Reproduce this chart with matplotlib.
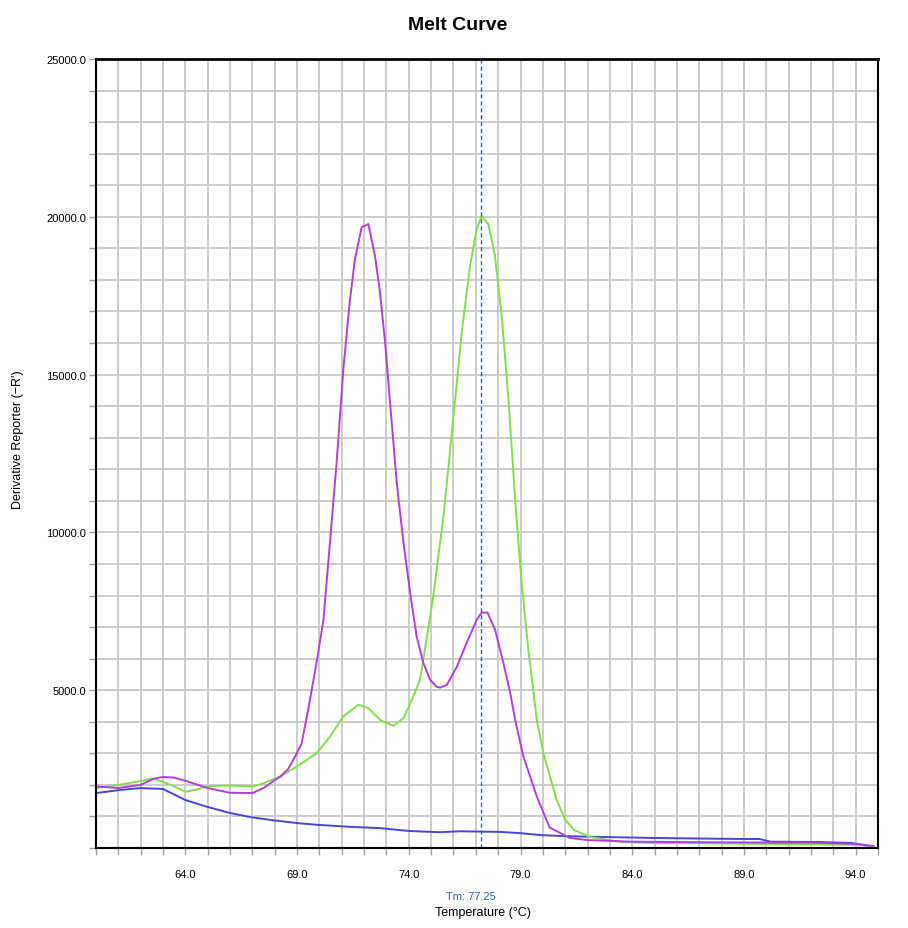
import matplotlib.pyplot as plt
import numpy as np

# melt curve readings (temperature in degC, derivative reporter)
temp_purple = [60.0, 61.0, 62.0, 62.6, 63.0, 63.5, 64.0, 65.0, 66.0, 67.0, 67.5, 68.0, 68.24,
               68.6, 68.91, 69.2, 69.5, 69.88, 70.18, 70.47, 70.77, 71.07, 71.37, 71.59,
               71.89, 72.19, 72.49, 72.71, 72.94, 73.16, 73.46, 73.76, 74.06, 74.35, 74.65, 74.95,
               75.25, 75.4, 75.7, 76.15, 76.59, 77.04, 77.26, 77.52, 77.86, 78.23, 78.53, 78.76,
               79.13, 79.73, 80.3, 81.2, 82.0, 84.0, 88.0, 92.0, 94.0, 94.8]
val_purple = [1950, 1900, 2000, 2200, 2250, 2230, 2130, 1900, 1750, 1740, 1900, 2150, 2260,
              2500, 2900, 3300, 4400, 5900, 7230, 9680, 12220, 15170, 17390, 18660,
              19670, 19770, 18750, 17610, 16020, 14120, 11580, 9680, 8090, 6700, 5870, 5330,
              5110, 5080, 5170, 5740, 6500, 7230, 7460, 7460, 6920, 5870, 4950, 4060,
              2900, 1630, 650, 320, 250, 200, 180, 170, 130, 60]

temp_green = [60.0, 61.0, 62.0, 62.5, 63.0, 63.5, 64.0, 64.5, 65.0, 66.0, 67.0, 67.5, 68.0,
              68.24, 68.98, 69.88, 70.47, 71.07, 71.74, 72.19, 72.71, 73.31, 73.76, 74.2, 74.5,
              74.65, 75.1, 75.55, 76.0, 76.37, 76.74, 77.04, 77.26, 77.56, 77.86, 78.16, 78.46,
              78.76, 79.05, 79.35, 79.73, 80.02, 80.62, 81.0, 81.4, 82.1, 83.5, 84.8,
              90.0, 94.0, 94.8]
val_green = [1900, 2000, 2120, 2200, 2100, 1950, 1780, 1850, 1960, 1980, 1950, 2050, 2200,
             2260, 2580, 3000, 3530, 4170, 4540, 4430, 4060, 3870, 4110, 4800, 5330,
             5970, 8000, 10500, 13680, 16340, 18440, 19610, 20020, 19770, 18750, 16850, 14220,
             11040, 8410, 6280, 4060, 3010, 1520, 890, 570, 350, 190, 160,
             130, 100, 60]

temp_blue = [60.0, 61.1, 62.0, 63.0, 64.0, 65.0, 66.0, 66.9, 67.8, 69.0, 70.0, 71.4, 72.7,
             74.0, 75.4, 76.3, 77.2, 78.1, 79.0, 79.9, 80.8, 82.6, 84.8, 87.0, 89.0, 89.7,
             90.2, 92.4, 93.8, 94.6]
val_blue = [1740, 1840, 1900, 1870, 1520, 1300, 1110, 980, 890, 790, 730, 670, 630,
            540, 500, 530, 520, 510, 470, 410, 380, 350, 320, 300, 285, 285,
            200, 190, 160, 60]

tm = 77.25
x_labels = [64.0, 69.0, 74.0, 79.0, 84.0, 89.0, 94.0]
y_labels = [5000.0, 10000.0, 15000.0, 20000.0, 25000.0]

narrow = ['Liberation Sans Narrow', 'Liberation Sans', 'DejaVu Sans']
plain = ['Liberation Sans', 'DejaVu Sans']

fig = plt.figure(figsize=(9.08, 9.29), dpi=100)
ax = fig.add_axes([96 / 908, 80 / 929, 782 / 908, 789 / 929])

ax.plot(temp_blue, val_blue, color='#4646d8', lw=1.4)
ax.plot(temp_green, val_green, color='#7fe048', lw=1.4)
ax.plot(temp_purple, val_purple, color='#b03ee0', lw=1.4)
ax.axvline(tm, color='#2a66b8', ls=(0, (3, 2)), lw=1.0)

ax.set_xlim(60.0, 95.0)
ax.set_ylim(0, 25000)
ax.set_xticks(np.arange(60, 96, 1.0), minor=True)
ax.set_xticks(x_labels)
ax.set_xticklabels(['%.1f' % v for v in x_labels], fontsize=8, family=narrow)
ax.set_yticks(np.arange(0, 25001, 1000), minor=True)
ax.set_yticks(y_labels)
ax.set_yticklabels(['%.1f' % v for v in y_labels], fontsize=8, family=narrow)
ax.grid(True, which='both', color='#c8c8c8', lw=1.3)
ax.set_axisbelow(True)
ax.tick_params(which='both', direction='out', length=5, color='#a0a0a0', width=1)
ax.tick_params(axis='x', pad=10)
ax.tick_params(axis='y', pad=2)

for side in ['left', 'bottom', 'right']:
    ax.spines[side].set_linewidth(1.5)
ax.spines['top'].set_linewidth(2)

fig.text(458 / 908, 1 - 25 / 929, 'Melt Curve', ha='center', va='center',
         fontsize=14, fontweight='bold', family=narrow)
fig.text(18 / 908, 1 - 440 / 929, "Derivative Reporter (\u2212R')", rotation=90,
         ha='center', va='center', fontsize=9, family=plain)
fig.text(471 / 908, 1 - 897 / 929, 'Tm: 77.25', ha='center', va='center',
         fontsize=8, color='#2a66b8', family=narrow)
fig.text(483 / 908, 1 - 913 / 929, 'Temperature (\u00b0C)', ha='center', va='center',
         fontsize=9, family=plain)

fig.savefig('out.png', dpi=100)
